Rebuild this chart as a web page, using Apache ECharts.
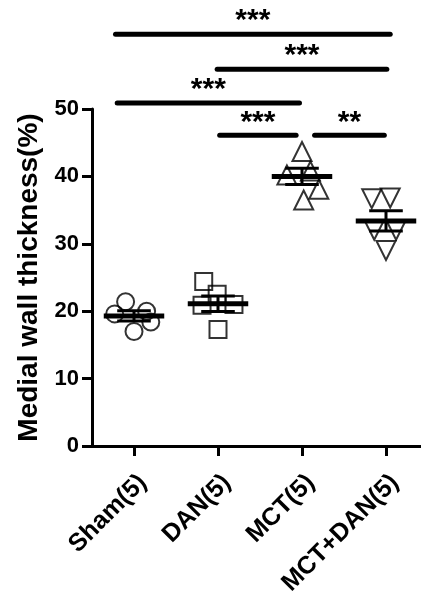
<!DOCTYPE html>
<html>
<head>
<meta charset="utf-8">
<script src="https://cdn.jsdelivr.net/npm/echarts@6/dist/echarts.min.js"></script>
<style>html,body{margin:0;padding:0;background:#fff;}#c{width:421px;height:591px;}</style>
</head>
<body>
<div id="c"></div>
<script>
// ---- data ----
var categories = ['Sham(5)', 'DAN(5)', 'MCT(5)', 'MCT+DAN(5)'];
var yTicks = [0, 10, 20, 30, 40, 50];
// individual points: [group position (with horizontal scatter), value]
var shamPoints = [[-0.10, 21.4], [0.15, 20.0], [-0.23, 19.6], [0.20, 18.4], [0.00, 17.0]];
var danPoints = [[0.83, 24.4], [0.99, 22.5], [0.81, 20.9], [1.19, 21.0], [1.00, 17.3]];
var mctPoints = [[2.00, 43.7], [1.82, 40.2], [2.10, 40.8], [2.20, 38.1], [2.02, 36.5]];
var mctDanPoints = [[2.83, 36.7], [3.05, 36.8], [2.86, 32.0], [3.12, 32.0], [3.00, 29.0]];
var groupMeans = [19.3, 21.1, 40.0, 33.4];
var groupSem = [0.75, 1.15, 1.2, 1.5];
// significance brackets
var sigStart = [-0.22, 0.99, -0.20, 1.02, 2.15];
var sigEnd = [3.05, 3.01, 1.97, 1.93, 2.98];
var sigLevel = [61.1, 55.9, 50.9, 46.1, 46.1];
var sigLabels = ['***', '***', '***', '***', '**'];

var FONT = '"Liberation Sans", Arial, sans-serif';

var sigData = sigStart.map(function (s, i) { return [s, sigEnd[i], sigLevel[i]]; });
var meanData = groupMeans.map(function (m, i) { return [i, m, groupSem[i]]; });

var chart = echarts.init(document.getElementById('c'), null, {renderer: 'canvas'});

function markerStyle() {
  return {color: 'rgba(0,0,0,0)', borderColor: '#000', borderWidth: 2};
}

chart.setOption({
  animation: false,
  backgroundColor: '#fff',
  grid: {left: 92, width: 336, top: 109, bottom: 145, containLabel: false, outerBoundsMode: 'none'},
  xAxis: [{
    type: 'category',
    data: categories,
    boundaryGap: true,
    axisLine: {show: true, lineStyle: {color: '#000', width: 3}},
    axisTick: {show: true, alignWithLabel: true, length: 10, lineStyle: {color: '#000', width: 3}},
    axisLabel: {rotate: 45, margin: 24, verticalAlign: 'top', fontSize: 25, fontWeight: 'bold', fontFamily: FONT, color: '#000', interval: 0},
    splitLine: {show: false}
  }, {
    type: 'value',
    min: -0.5,
    max: 3.5,
    show: false
  }],
  yAxis: {
    type: 'value',
    min: yTicks[0],
    max: yTicks[yTicks.length - 1],
    interval: 10,
    name: 'Medial wall thickness(%)',
    nameLocation: 'middle',
    nameRotate: 90,
    nameGap: 48,
    nameTextStyle: {fontSize: 28, fontWeight: 'bold', fontFamily: FONT, color: '#000'},
    axisLine: {show: true, onZero: false, lineStyle: {color: '#000', width: 3}},
    axisTick: {show: true, length: 10, lineStyle: {color: '#000', width: 3}},
    axisLabel: {margin: 13, fontSize: 22, fontWeight: 'bold', fontFamily: FONT, color: '#000'},
    splitLine: {show: false}
  },
  series: [
    {type: 'scatter', xAxisIndex: 1, data: shamPoints, symbol: 'circle', symbolSize: 17, itemStyle: markerStyle(), z: 2},
    {type: 'scatter', xAxisIndex: 1, data: danPoints, symbol: 'rect', symbolSize: 17, itemStyle: markerStyle(), z: 2},
    {type: 'scatter', xAxisIndex: 1, data: mctPoints, symbol: 'triangle', symbolSize: [19, 19], itemStyle: markerStyle(), z: 2},
    {type: 'scatter', xAxisIndex: 1, data: mctDanPoints, symbol: 'triangle', symbolRotate: 180, symbolSize: [19, 19], itemStyle: markerStyle(), z: 2},
    {
      type: 'custom', xAxisIndex: 1, z: 5, data: meanData,
      renderItem: function (params, api) {
        var x = api.value(0), m = api.value(1), s = api.value(2);
        var a = api.coord([x - 0.36, m]), b = api.coord([x + 0.36, m]);
        var hi = api.coord([x, m + s]), lo = api.coord([x, m - s]);
        var c1 = api.coord([x - 0.2, m + s]), c2 = api.coord([x + 0.2, m + s]);
        var d1 = api.coord([x - 0.2, m - s]), d2 = api.coord([x + 0.2, m - s]);
        var st = {stroke: '#000', lineWidth: 3};
        return {type: 'group', children: [
          {type: 'line', shape: {x1: hi[0], y1: hi[1], x2: lo[0], y2: lo[1]}, style: st},
          {type: 'line', shape: {x1: c1[0], y1: c1[1], x2: c2[0], y2: c2[1]}, style: st},
          {type: 'line', shape: {x1: d1[0], y1: d1[1], x2: d2[0], y2: d2[1]}, style: st},
          {type: 'line', shape: {x1: a[0], y1: a[1], x2: b[0], y2: b[1]}, style: {stroke: '#000', lineWidth: 5}}
        ]};
      }
    },
    {
      type: 'custom', xAxisIndex: 1, z: 6, data: sigData, clip: false,
      renderItem: function (params, api) {
        var p1 = api.coord([api.value(0), api.value(2)]);
        var p2 = api.coord([api.value(1), api.value(2)]);
        return {type: 'group', children: [
          {type: 'line', shape: {x1: p1[0], y1: p1[1], x2: p2[0], y2: p2[1]}, style: {stroke: '#000', lineWidth: 5, lineCap: 'round'}},
          {type: 'text', style: {text: sigLabels[params.dataIndex], x: (p1[0] + p2[0]) / 2, y: p1[1] - 13,
            align: 'center', verticalAlign: 'middle', fontSize: 30, fontWeight: 'bold', fontFamily: FONT, fill: '#000'}}
        ]};
      }
    }
  ]
});
</script>
</body>
</html>
